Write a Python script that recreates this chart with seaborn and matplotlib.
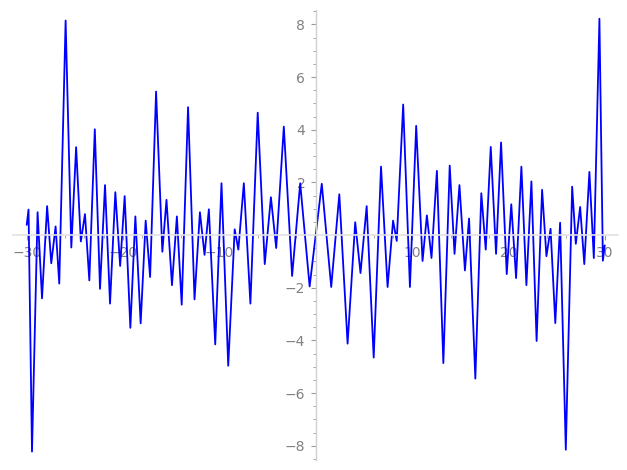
import numpy as np
import pandas as pd
import matplotlib
matplotlib.use("Agg")
import matplotlib.pyplot as plt
import seaborn as sns
from matplotlib.ticker import MultipleLocator, FixedLocator

# turning points of the curve (left half, then right half)
x_left = [-30.0, -29.81, -29.45, -28.87, -28.41, -27.88, -27.45, -27.0, -26.62,
          -25.96, -25.37, -24.87, -24.38, -23.95, -23.5, -22.93, -22.39, -21.87,
          -21.35, -20.8, -20.3, -19.83, -19.24, -18.72, -18.17, -17.65, -17.19,
          -16.57, -15.92, -15.49, -14.92, -14.41, -13.91, -13.25, -12.58, -12.02,
          -11.54, -11.09, -10.43, -9.78, -9.08, -8.41, -8.03, -7.46, -6.78, -6.02,
          -5.29, -4.65, -4.1, -3.31, -2.45, -1.61, -0.63, 0.0]
y_left = [0.39, 0.97, -8.22, 0.87, -2.40, 1.10, -1.07, 0.33, -1.84,
          8.15, -0.47, 3.34, -0.24, 0.80, -1.72, 4.02, -2.04, 1.90,
          -2.60, 1.63, -1.17, 1.48, -3.52, 0.71, -3.35, 0.55, -1.59,
          5.45, -0.63, 1.34, -1.90, 0.71, -2.64, 4.86, -2.44, 0.87,
          -0.75, 0.98, -4.15, 1.97, -4.96, 0.22, -0.55, 1.97, -2.60, 4.65,
          -1.10, 1.44, -0.49, 4.12, -1.55, 1.97, -1.95, 0.0]

x_right = [0.63, 1.61, 2.45, 3.31, 4.1, 4.65, 5.29, 6.02, 6.78, 7.46, 8.03,
           8.41, 9.08, 9.78, 10.43, 11.09, 11.54, 12.02, 12.58, 13.25, 13.91,
           14.41, 14.92, 15.49, 15.92, 16.57, 17.19, 17.65, 18.17, 18.72, 19.24,
           19.83, 20.3, 20.8, 21.35, 21.87, 22.39, 22.93, 23.5, 23.95, 24.38,
           24.87, 25.37, 25.96, 26.62, 27.0, 27.45, 27.88, 28.41, 28.87, 29.45,
           29.81, 30.0]
y_right = [1.95, -1.97, 1.55, -4.12, 0.49, -1.44, 1.10, -4.65, 2.60, -1.97, 0.55,
           -0.22, 4.96, -1.97, 4.15, -0.98, 0.75, -0.87, 2.44, -4.86, 2.64,
           -0.71, 1.90, -1.34, 0.63, -5.45, 1.59, -0.55, 3.35, -0.71, 3.52,
           -1.48, 1.17, -1.63, 2.60, -1.90, 2.04, -4.02, 1.72, -0.80, 0.24,
           -3.34, 0.47, -8.15, 1.84, -0.33, 1.07, -1.10, 2.40, -0.87, 8.22,
           -0.97, -0.39]

x_ticks = [-30, -20, -10, 10, 20, 30]
y_ticks = [-8, -6, -4, -2, 2, 4, 6, 8]

df = pd.DataFrame({"x": x_left + x_right, "y": y_left + y_right})

sns.set_style("white")
plt.rcParams['font.family'] = ['DejaVu Sans']

fig = plt.figure(figsize=(6.27, 4.70), dpi=100)
ax = fig.add_axes([0.0203, 0.0213, 0.9649, 0.9574])

sns.lineplot(data=df, x="x", y="y", sort=False, estimator=None,
             color="blue", linewidth=1.3, ax=ax)

ax.set_xlim(-31.45, 31.35)
ax.set_ylim(-8.54, 8.55)

# axes crossing at the origin
for side in ["top", "right"]:
    ax.spines[side].set_visible(False)
ax.spines["left"].set_position(("data", 0))
ax.spines["bottom"].set_position(("data", 0))
ax.spines["left"].set_color("#d0d0d0")
ax.spines["bottom"].set_color("#e2e2e2")
ax.spines["left"].set_linewidth(1.0)
ax.spines["bottom"].set_linewidth(1.2)

ax.xaxis.set_major_locator(FixedLocator(x_ticks))
ax.yaxis.set_major_locator(FixedLocator(y_ticks))
ax.xaxis.set_minor_locator(MultipleLocator(2))
ax.yaxis.set_minor_locator(MultipleLocator(0.5))
ax.tick_params(which="both", direction="out", colors="#9a9a9a",
               labelcolor="#808080", labelsize=10)
ax.tick_params(which="major", length=3.5, width=0.8)
ax.tick_params(which="minor", length=2, width=0.6)
ax.tick_params(axis="x", pad=4.5)
ax.tick_params(axis="y", pad=4)
ax.tick_params(bottom=True, left=True, which="both")

ax.set_xlabel("")
ax.set_ylabel("")

fig.savefig("out.png", dpi=100)
